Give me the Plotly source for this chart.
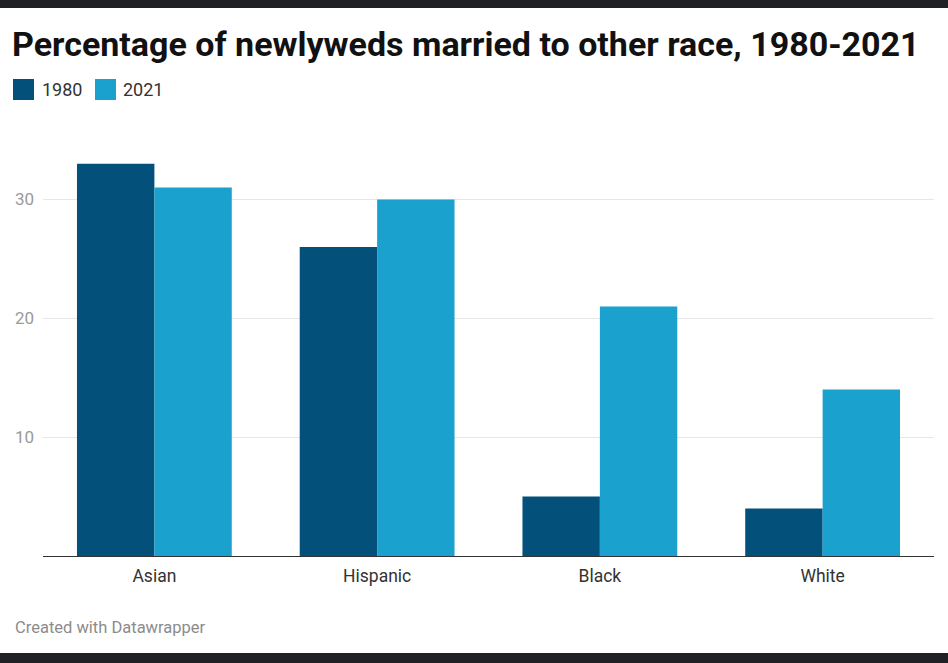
import plotly.graph_objects as go

categories = ["Asian", "Hispanic", "Black", "White"]
values_1980 = [33, 26, 5, 4]
values_2021 = [31, 30, 21, 14]
series_names = ["1980", "2021"]
series_colors = ["#03507a", "#1aa1ce"]
y_ticks = [10, 20, 30]

W, H = 948, 663
ml, mr, mt, mb = 43, 14, 140, 107
plot_w = W - ml - mr
plot_h = H - mt - mb

def py(px):
    return (H - mb - px) / plot_h

def px_(x):
    return (x - ml) / plot_w

fig = go.Figure()
for name, vals, col in zip(series_names, [values_1980, values_2021], series_colors):
    fig.add_trace(go.Bar(x=categories, y=vals, name=name,
                         marker=dict(color=col, line=dict(width=0))))

# manual legend (large square swatches like the original)
legend_swatch_x = [13, 95]
legend_text_x = [40, 121]
shapes = []
annotations = []
for name, col, sx, tx in zip(series_names, series_colors, legend_swatch_x, legend_text_x):
    shapes.append(dict(type="rect", xref="paper", yref="paper",
                       x0=px_(sx), x1=px_(sx + 21), y0=py(100), y1=py(79),
                       fillcolor=col, line=dict(width=0)))
    annotations.append(dict(text=name, xref="paper", yref="paper",
                            x=px_(tx), xanchor="left", y=py(89.5), yanchor="middle",
                            showarrow=False, font=dict(size=18, color="#333333")))

shapes += [
    dict(type="rect", xref="paper", yref="paper", x0=-0.1, x1=1.1,
         y0=py(8), y1=py(-2), fillcolor="#202124", line=dict(width=0), layer="above"),
    dict(type="rect", xref="paper", yref="paper", x0=-0.1, x1=1.1,
         y0=py(665), y1=py(653), fillcolor="#202124", line=dict(width=0), layer="above"),
]
annotations.append(dict(text="Created with Datawrapper", xref="paper", yref="paper",
                        x=px_(13), xanchor="left", y=py(627), yanchor="middle",
                        showarrow=False, font=dict(size=16.5, color="#8c8c8c")))

fig.update_layout(
    width=W, height=H,
    margin=dict(l=ml, r=mr, t=mt, b=mb),
    barmode="group", bargap=0.305, bargroupgap=0,
    paper_bgcolor="white", plot_bgcolor="white",
    font=dict(family="Roboto", color="#333333"),
    title=dict(text="<b>Percentage of newlyweds married to other race, 1980-2021</b>",
               x=12 / W, xanchor="left", xref="container",
               y=1 - 44 / H, yanchor="middle", yref="container",
               font=dict(family="Roboto", size=34, color="#111111")),
    showlegend=False,
    xaxis=dict(showline=True, linecolor="#333333", linewidth=1, ticks="",
               tickfont=dict(size=17.5, color="#333333"), showgrid=False,
               range=[-0.5, 3.5], ticklabelstandoff=4),
    yaxis=dict(range=[0, 35], tickvals=y_ticks, showgrid=True, gridcolor="#e6e6e6",
               gridwidth=1, zeroline=False, showline=False,
               tickfont=dict(size=17, color="#9a9a9a"), ticklabelstandoff=8),
    shapes=shapes,
    annotations=annotations,
)

fig.write_html("out.html", config={"displayModeBar": False},
               post_script="document.body.style.margin='0';document.body.style.padding='0';")
